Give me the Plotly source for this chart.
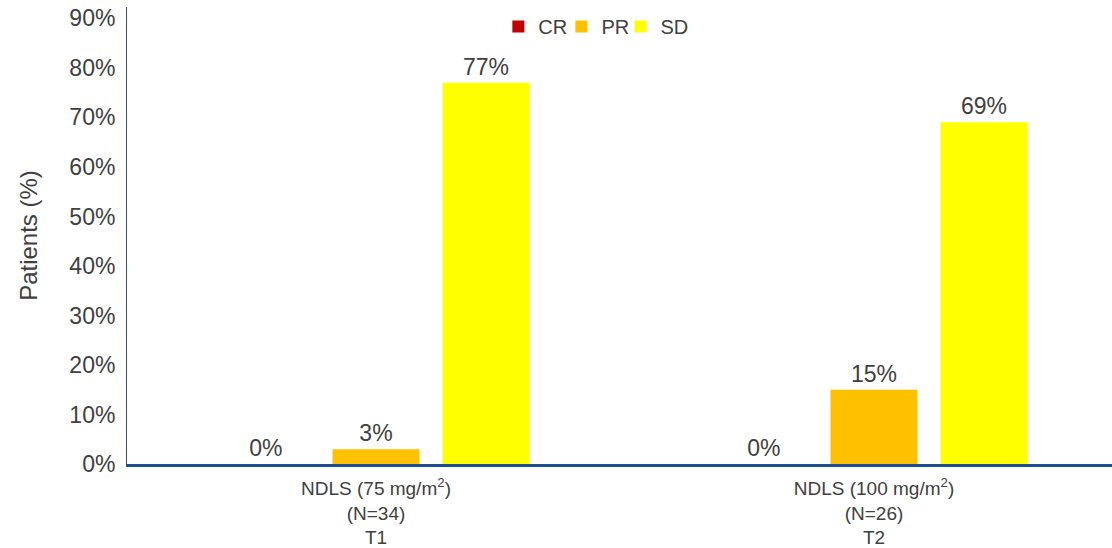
import plotly.graph_objects as go

# Response categories per treatment arm
groups = ["NDLS (75 mg/m<sup>2</sup>)<br>(N=34)<br>T1", "NDLS (100 mg/m<sup>2</sup>)<br>(N=26)<br>T2"]
series_names = ["CR", "PR", "SD"]
cr_values = [0, 0]
pr_values = [3, 15]
sd_values = [77, 69]
colors = ["#C00000", "#FFC000", "#FFFF00"]

y_ticks = list(range(0, 91, 10))
y_tick_labels = [f"{v}%" for v in y_ticks]

# one small legend per series so the three keys sit close together
legend_ids = ["legend", "legend2", "legend3"]
legend_x = [0.377, 0.441, 0.501]

fig = go.Figure()
for name, vals, col, lg in zip(series_names, [cr_values, pr_values, sd_values], colors, legend_ids):
    fig.add_trace(go.Bar(
        name=name,
        x=groups,
        y=vals,
        marker=dict(color=col, line=dict(width=0)),
        text=[f"{v}%" for v in vals],
        textposition="outside",
        textfont=dict(size=23, color="#404040"),
        cliponaxis=False,
        legend=lg,
    ))

legend_style = dict(
    orientation="h",
    xanchor="left",
    y=1.0,
    yanchor="top",
    font=dict(size=20, color="#404040"),
    itemwidth=30,
    bgcolor="rgba(0,0,0,0)",
)

fig.update_layout(
    width=1112,
    height=548,
    margin=dict(l=127, r=0, t=7, b=84),
    paper_bgcolor="white",
    plot_bgcolor="white",
    font=dict(family="Liberation Sans, Arial, sans-serif", color="#404040"),
    barmode="group",
    bargap=0.337,
    bargroupgap=0.21,
    showlegend=True,
    legend=dict(x=legend_x[0], **legend_style),
    legend2=dict(x=legend_x[1], **legend_style),
    legend3=dict(x=legend_x[2], **legend_style),
    xaxis=dict(
        range=[-0.5, 1.478],
        showline=True,
        linecolor="#1F4E8C",
        linewidth=3,
        ticks="",
        ticklabelstandoff=5,
        tickfont=dict(size=19, color="#404040"),
        showgrid=False,
    ),
    yaxis=dict(
        range=[0, 92.3],
        tickvals=y_ticks,
        ticktext=y_tick_labels,
        tickfont=dict(size=23, color="#404040"),
        ticklabelstandoff=6,
        showline=True,
        linecolor="#2F5597",
        linewidth=1,
        showgrid=False,
        zeroline=False,
        ticks="",
        title=dict(text="Patients (%)", font=dict(size=24, color="#404040"), standoff=24),
    ),
)

fig.write_html("out.html")
